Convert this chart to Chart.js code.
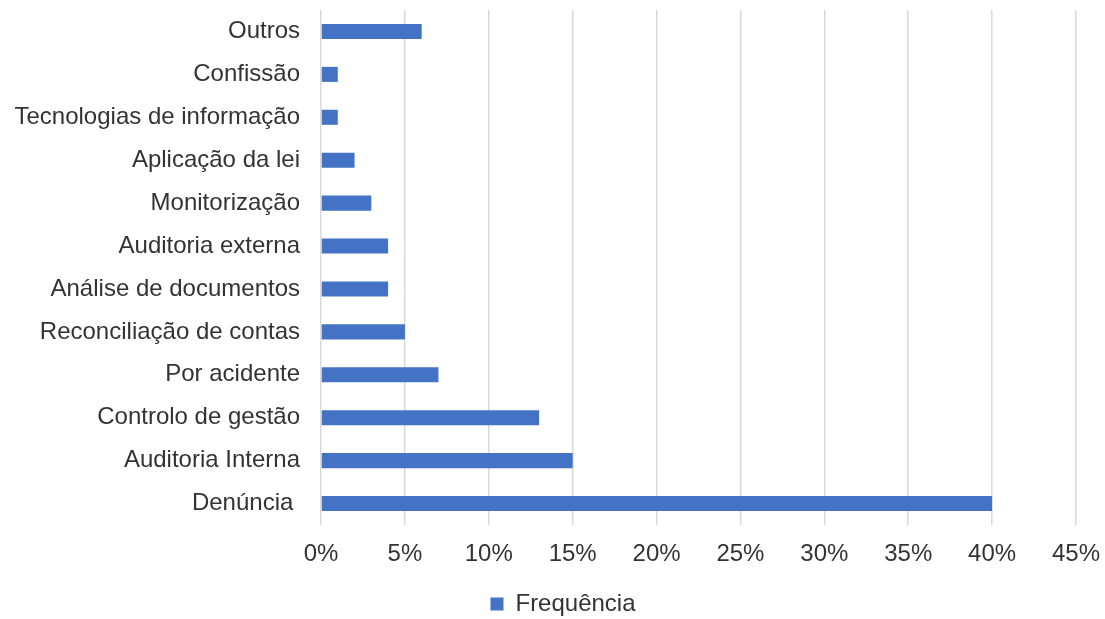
<!DOCTYPE html>
<html>
<head>
<meta charset="utf-8">
<script src="https://cdn.jsdelivr.net/npm/chart.js@4/dist/chart.umd.min.js"></script>
<style>
  html, body { margin: 0; padding: 0; background: #fff; overflow: hidden; }
  #wrap { width: 1105px; height: 626px; position: relative; }
</style>
</head>
<body>
<div id="wrap"><canvas id="chart"></canvas></div>
<script>
const categories = [
  'Outros', 'Confissão', 'Tecnologias de informação', 'Aplicação da lei',
  'Monitorização', 'Auditoria externa', 'Análise de documentos',
  'Reconciliação de contas', 'Por acidente', 'Controlo de gestão',
  'Auditoria Interna', 'Denúncia '
];
const frequencia = [6, 1, 1, 2, 3, 4, 4, 5, 7, 13, 15, 40];
const seriesName = 'Frequência';
const xMax = 45;
const xStep = 5;

const textColor = '#333333';
const fontFamily = '"Liberation Sans", Arial, sans-serif';

// nudge the legend a bit right, like the original
const legendShift = {
  id: 'legendShift',
  afterLayout(chart) {
    if (chart.legend) {
      chart.legend.left += 25;
      chart.legend.right += 25;
    }
  }
};

new Chart(document.getElementById('chart'), {
  type: 'bar',
  data: {
    labels: categories,
    datasets: [{
      label: seriesName,
      data: frequencia,
      backgroundColor: '#4472C4',
      categoryPercentage: 1,
      barPercentage: 0.35
    }]
  },
  options: {
    indexAxis: 'y',
    responsive: true,
    maintainAspectRatio: false,
    animation: false,
    layout: { padding: { top: 10, right: 29, left: 0, bottom: 0 } },
    plugins: {
      tooltip: { enabled: false },
      legend: {
        position: 'bottom',
        labels: {
          color: textColor,
          font: { family: fontFamily, size: 24 },
          boxWidth: 13,
          boxHeight: 13,
          padding: 0
        }
      }
    },
    scales: {
      x: {
        min: 0,
        max: xMax,
        grid: { color: '#D9D9D9', lineWidth: 1.5, drawTicks: false },
        border: { display: false },
        ticks: {
          stepSize: xStep,
          padding: 15,
          color: textColor,
          font: { family: fontFamily, size: 24 },
          callback: v => v + '%'
        },
        afterFit: s => {
          s.height = 67;
          s.paddingLeft = 0;
          s.paddingRight = 0;
        }
      },
      y: {
        grid: { display: false, drawTicks: false },
        border: { display: false },
        ticks: {
          padding: 21,
          color: textColor,
          font: { family: fontFamily, size: 24 }
        },
        afterFit: s => {
          s.width = 321;
          s.paddingTop = 0;
          s.paddingBottom = 0;
        }
      }
    }
  },
  plugins: [legendShift]
});
</script>
</body>
</html>
